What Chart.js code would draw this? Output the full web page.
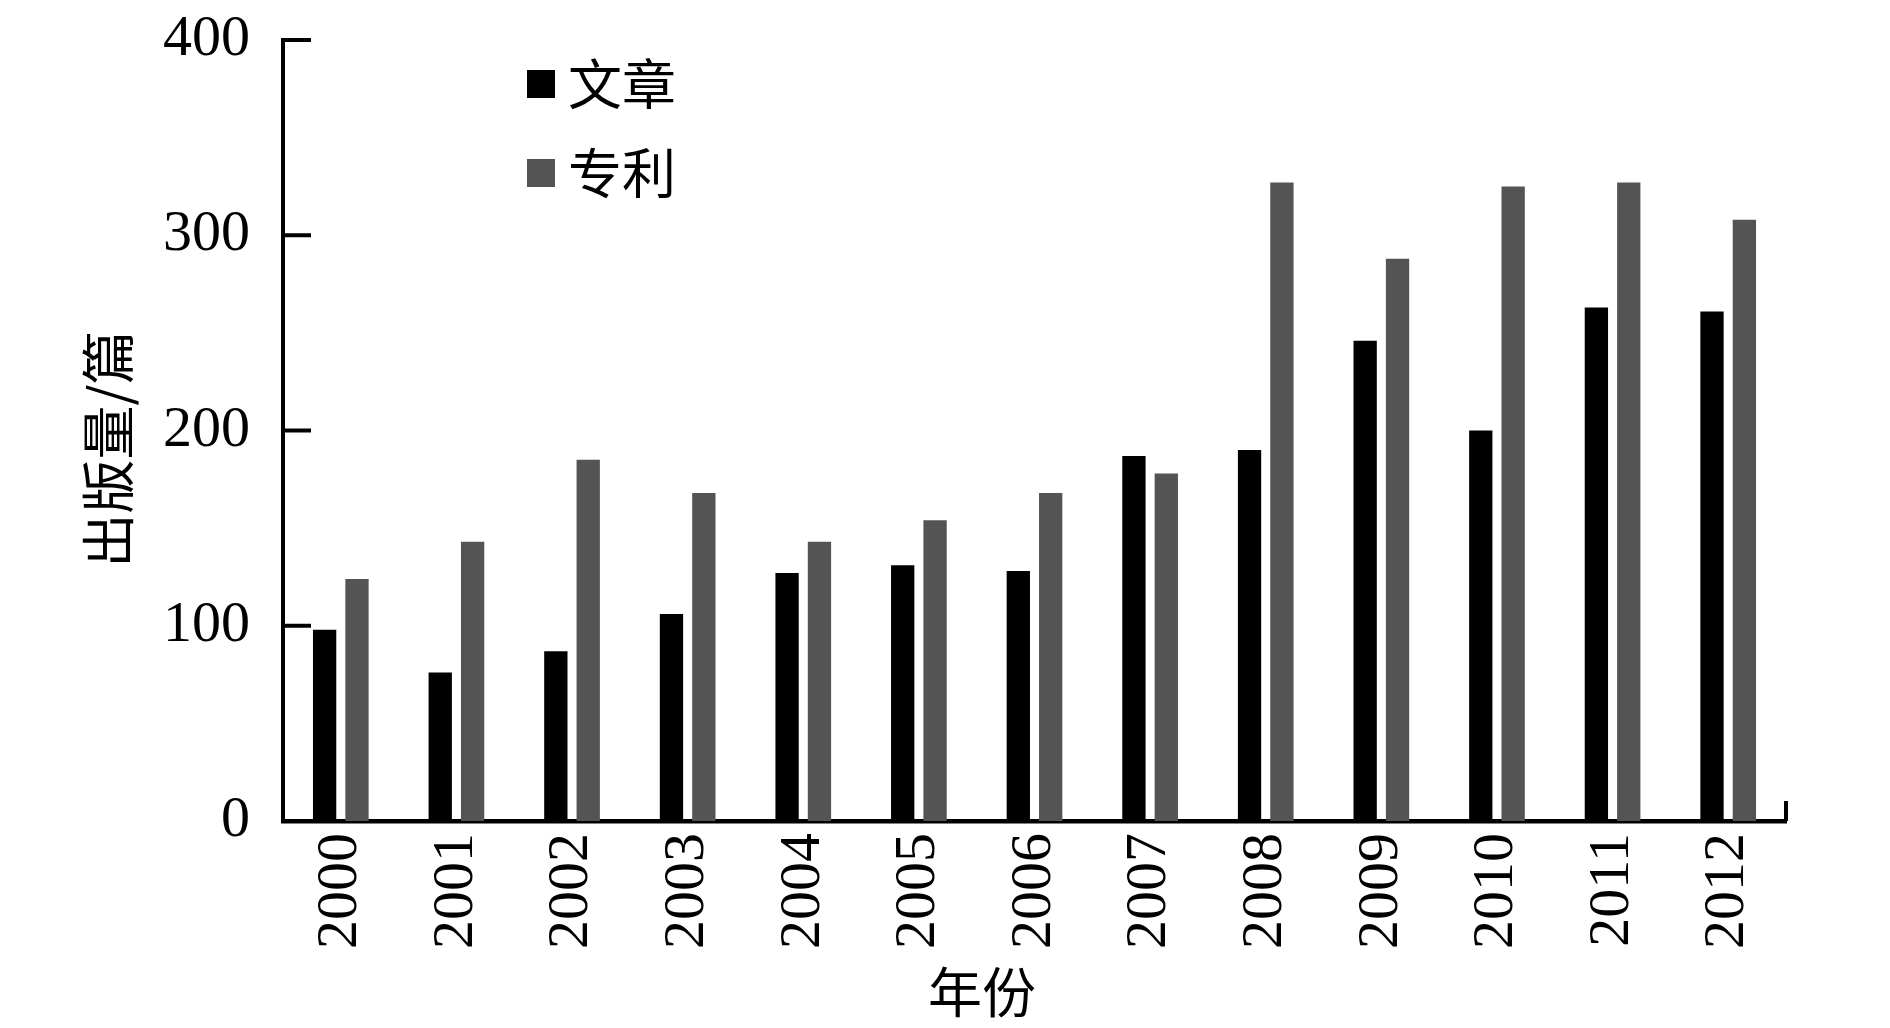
<!DOCTYPE html>
<html>
<head>
<meta charset="utf-8">
<script src="https://cdn.jsdelivr.net/npm/chart.js@4.4.1/dist/chart.umd.min.js"></script>
<style>
  html, body { margin: 0; padding: 0; background: #fff; }
  #wrap { width: 1890px; height: 1028px; }
</style>
</head>
<body>
<div id="wrap"><canvas id="grafico" width="1890" height="1028"></canvas></div>
<script>
// -------- DADOS --------
const anos = ["2000", "2001", "2002", "2003", "2004", "2005", "2006", "2007", "2008", "2009", "2010", "2011", "2012"];
const artigos = [98, 76, 87, 106, 127, 131, 128, 187, 190, 246, 200, 263, 261];
const patentes = [124, 143, 185, 168, 143, 154, 168, 178, 327, 288, 325, 327, 308];
const ticksY = [0, 100, 200, 300, 400];

const tituloY = "出版量/篇";
const tituloX = "年份";

const serif = "'Liberation Serif', 'Times New Roman', serif";
const cjk = "'Noto Sans CJK SC', 'Noto Sans CJK JP', sans-serif";

// eixos, marcas internas, títulos e legenda desenhados à mão
const eixosPlugin = {
  id: "eixos",
  afterDraw(chart) {
    const c = chart.ctx;
    const y = chart.scales.y;
    const area = chart.chartArea;
    c.save();
    c.strokeStyle = "#000";
    c.lineWidth = 4;
    // marcas do eixo y (para dentro)
    ticksY.forEach((v) => {
      if (v === 0) return;
      const py = y.getPixelForValue(v);
      c.beginPath();
      c.moveTo(area.left, py);
      c.lineTo(area.left + 28, py);
      c.stroke();
    });
    // marca no fim do eixo x
    const y0 = y.getPixelForValue(0);
    c.beginPath();
    c.moveTo(area.right, y0);
    c.lineTo(area.right, y0 - 20);
    c.stroke();

    // títulos
    c.fillStyle = "#000";
    c.font = "54px " + cjk;
    c.textAlign = "center";
    c.textBaseline = "middle";
    c.save();
    c.translate(108, 449);
    c.rotate(-Math.PI / 2);
    c.fillText(tituloY, 0, 0);
    c.restore();
    c.fillText(tituloX, 982, 992);

    // legenda
    c.textAlign = "left";
    chart.data.datasets.forEach((ds, i) => {
      const cy = 84 + i * 89;
      c.fillStyle = ds.backgroundColor;
      c.fillRect(527, cy - 14, 28, 28);
      c.fillStyle = "#000";
      c.fillText(ds.label, 568, cy);
    });
    c.restore();
  }
};

const ctx = document.getElementById("grafico").getContext("2d");
const chart = new Chart(ctx, {
  type: "bar",
  data: {
    labels: anos,
    datasets: [
      {
        label: "文章",
        data: artigos,
        backgroundColor: "#000000",
        categoryPercentage: 0.56,
        barPercentage: 0.72
      },
      {
        label: "专利",
        data: patentes,
        backgroundColor: "#545454",
        categoryPercentage: 0.56,
        barPercentage: 0.72
      }
    ]
  },
  options: {
    responsive: false,
    animation: false,
    layout: { padding: { top: 40, right: 104, bottom: 0, left: 0 } },
    plugins: {
      legend: { display: false },
      tooltip: { enabled: false }
    },
    scales: {
      x: {
        grid: { display: false, drawTicks: false },
        border: { display: true, color: "#000", width: 4.5 },
        ticks: {
          color: "#000",
          font: { family: serif, size: 58 },
          minRotation: 90,
          maxRotation: 90,
          autoSkip: false,
          padding: 12
        },
        afterFit: (scale) => {
          scale.height = 207;
          scale.paddingLeft = 0;
          scale.paddingRight = 0;
        }
      },
      y: {
        min: 0,
        max: 400,
        grid: { display: false, drawTicks: false },
        border: { display: true, color: "#000", width: 4 },
        ticks: {
          color: "#000",
          font: { family: serif, size: 58 },
          stepSize: 100,
          padding: 33
        },
        afterFit: (scale) => {
          scale.width = 283;
          scale.paddingTop = 0;
          scale.paddingBottom = 0;
        }
      }
    }
  },
  plugins: [eixosPlugin]
});
</script>
</body>
</html>
